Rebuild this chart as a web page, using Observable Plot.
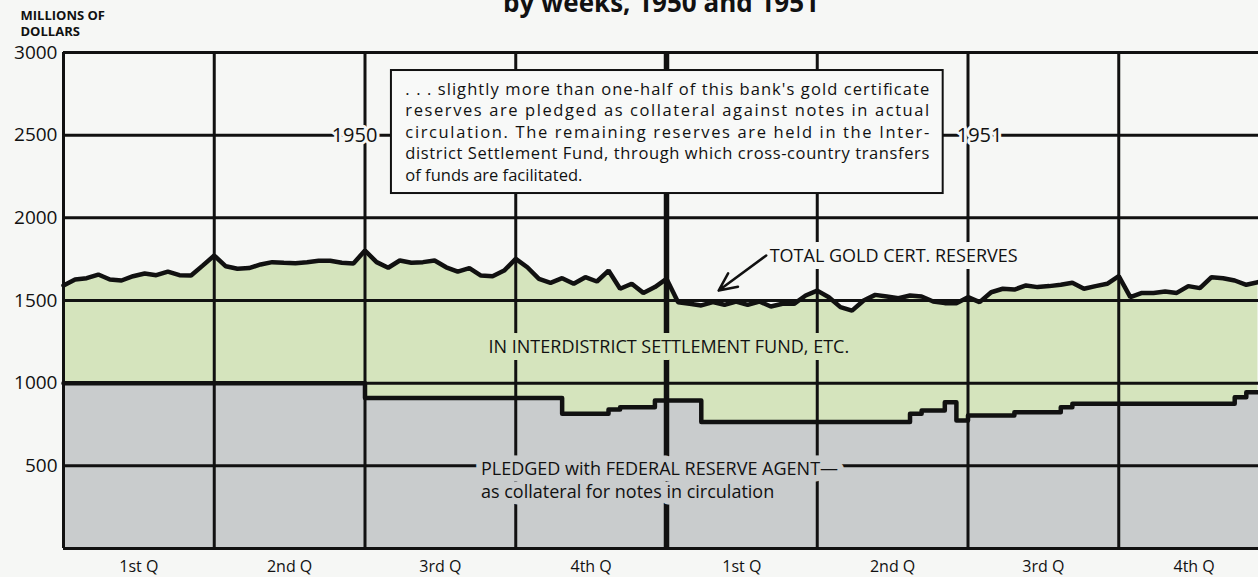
<!DOCTYPE html>
<html><head><meta charset="utf-8">
<script src="https://cdn.jsdelivr.net/npm/d3@7"></script>
<script src="https://cdn.jsdelivr.net/npm/@observablehq/plot@0.6"></script>
<style>
body{margin:0;background:#f6f7f5;}
#chart{width:1258px;height:577px;overflow:hidden}
</style></head><body><div id="chart"></div>
<script>
// Total gold certificate reserves, weekly, 1950 (weeks 0-51) and 1951 (weeks 52-103), millions of dollars
const totalReserves = [
  1591,1627,1635,1657,1627,1621,1647,1663,1653,1675,1653,1651,1711,
  1772,1707,1692,1696,1718,1732,1728,1726,1732,1740,1740,1728,1724,
  1802,1732,1698,1742,1728,1732,1742,1701,1675,1696,1651,1647,1681,
  1752,1701,1631,1607,1635,1601,1641,1615,1681,1571,1601,1546,1581,
  1631,1490,1480,1470,1490,1474,1494,1474,1494,1464,1480,1480,1530,
  1560,1520,1460,1439,1500,1534,1524,1514,1530,1524,1494,1484,1484,
  1520,1490,1550,1571,1566,1591,1581,1587,1595,1607,1571,1587,1601,
  1647,1520,1546,1546,1554,1546,1587,1575,1641,1635,1621,1595,1611
];
// Pledged with Federal Reserve Agent: week at which each level starts, and the level
const pledgedStartWeek = [0,26,43,47,48,51,55,73,74,76,77,78,82,86,87,101,102];
const pledgedValue     = [1000,910,815,840,855,895,765,815,835,885,774,804,824,855,875,915,945];
const weeksTotal = 104;
const yTicks = [500,1000,1500,2000,2500,3000];
const gridValues = [0,500,1000,1500,2000,2500,3000];
const quarterLabels = ["1st Q","2nd Q","3rd Q","4th Q","1st Q","2nd Q","3rd Q","4th Q"];
const yearLabels = ["1950","1951"];
const titleText = "by weeks, 1950 and 1951";
const unitText = "MILLIONS OF\nDOLLARS";
const noteLines = [
  ". . . slightly more than one-half of this bank's gold certificate",
  "reserves are pledged as collateral against notes in actual",
  "circulation. The remaining reserves are held in the Inter-",
  "district Settlement Fund, through which cross-country transfers",
  "of funds are facilitated."
];
const totalLabel = "TOTAL GOLD CERT. RESERVES";
const fundLabel = "IN INTERDISTRICT SETTLEMENT FUND, ETC.";
const pledgedLabel = "PLEDGED with FEDERAL RESERVE AGENT\u2014\nas collateral for notes in circulation";

const BG = "#f6f7f5", GREEN = "#d5e4bd", GRAY = "#c9cccd", INK = "#111";
const FONT = "'Open Sans', Lato, sans-serif";

const totalData = totalReserves.map((v, i) => ({week: i, value: v}));
const pledgedData = pledgedStartWeek.map((w, i) => ({week: w, value: pledgedValue[i]}));
pledgedData.push({week: weeksTotal, value: pledgedValue[pledgedValue.length - 1]});
const quarterBounds = d3.range(0, 8).map(q => q * 13).filter(w => w !== 52);
const quarterMids = quarterLabels.map((_, i) => i * 13 + 6.5);

// note box anchors (in weeks / millions)
const boxLeft = 28.28, boxRight = 75.86, boxTop = 2891, boxBottom = 2147;
const noteLeft = 29.48, noteRight = 74.66, noteTop = 2815;
const noteLineStep = 21.5;

const noteMarks = noteLines.map((line, i) =>
  Plot.text([line], {x: noteLeft, y: noteTop, dy: i * noteLineStep, textAnchor: "start", lineAnchor: "top",
    fontSize: 16.5, fill: INK})
);

const chart = Plot.plot({
  width: 1258, height: 577,
  marginLeft: 63, marginRight: 0, marginTop: 52, marginBottom: 29,
  x: {domain: [0, weeksTotal], range: [63, 1269]},
  y: {domain: [0, 3000]},
  style: {background: BG, fontFamily: FONT, color: INK},
  marks: [
    Plot.areaY(totalData, {x: "week", y: "value", fill: GREEN}),
    Plot.areaY(pledgedData, {x: "week", y: "value", curve: "step-after", fill: GRAY}),
    Plot.ruleY(gridValues, {stroke: INK, strokeWidth: 3}),
    Plot.ruleX(quarterBounds, {stroke: INK, strokeWidth: 3}),
    Plot.ruleX([52], {stroke: INK, strokeWidth: 5.5}),
    Plot.lineY(pledgedData, {x: "week", y: "value", curve: "step-after", stroke: INK, strokeWidth: 4.5}),
    Plot.lineY(totalData, {x: "week", y: "value", stroke: INK, strokeWidth: 4.5, strokeLinejoin: "miter"}),
    // note box
    Plot.rect([0], {x1: boxLeft, x2: boxRight, y1: boxBottom, y2: boxTop, fill: "#f8f9f8", stroke: INK, strokeWidth: 2}),
    ...noteMarks,
    // year labels on the 2500 line
    Plot.text([yearLabels[0]], {x: 25.1, y: 2500, fontSize: 20, fill: INK, stroke: BG, strokeWidth: 6, paintOrder: "stroke"}),
    Plot.text([yearLabels[1]], {x: 79.0, y: 2500, fontSize: 20, fill: INK, stroke: BG, strokeWidth: 6, paintOrder: "stroke"}),
    // series labels
    Plot.text([totalLabel], {x: 60.9, y: 1766, textAnchor: "start", fontSize: 18, fill: INK, stroke: BG, strokeWidth: 14, strokeLinejoin: "round", paintOrder: "stroke"}),
    Plot.arrow([0], {x1: 60.6, y1: 1772, x2: 56.5, y2: 1560, stroke: INK, strokeWidth: 2.5, headLength: 12, headAngle: 50}),
    Plot.text([fundLabel], {x: 52.2, y: 1216, fontSize: 18, fill: INK, stroke: GREEN, strokeWidth: 14, strokeLinejoin: "round", paintOrder: "stroke"}),
    Plot.text([pledgedLabel], {x: 36.0, y: 545, textAnchor: "start", lineAnchor: "top", lineHeight: 1.28, fontSize: 18, fill: INK, stroke: GRAY, strokeWidth: 13, strokeLinejoin: "round", paintOrder: "stroke"}),
    // axes
    Plot.axisY({ticks: yTicks, tickSize: 0, tickPadding: 6, tickFormat: d3.format("d"), label: null, fontSize: 19}),
    Plot.axisX({ticks: quarterMids, tickSize: 0, tickPadding: 12, tickFormat: d => quarterLabels[quarterMids.indexOf(d)], label: null, fontSize: 16}),
    // title and unit
    Plot.text([titleText], {frameAnchor: "top", dy: -41, lineAnchor: "bottom", fontSize: 26, fontWeight: "bold", fill: INK}),
    Plot.text([unitText], {frameAnchor: "top-left", dx: -43, dy: -44, lineAnchor: "top", textAnchor: "start", fontSize: 13, fontWeight: "bold", lineHeight: 1.22, fill: INK})
  ]
});
document.getElementById("chart").append(chart);

// justify the note lines (all but the last) to the box width
const xs = chart.scale("x");
const targetWidth = xs.apply(noteRight) - xs.apply(noteLeft);
const justify = new Set(noteLines.slice(0, -1));
chart.querySelectorAll("text").forEach(t => {
  if (justify.has(t.textContent)) {
    t.setAttribute("textLength", targetWidth);
    t.setAttribute("lengthAdjust", "spacing");
  }
});
</script></body></html>
